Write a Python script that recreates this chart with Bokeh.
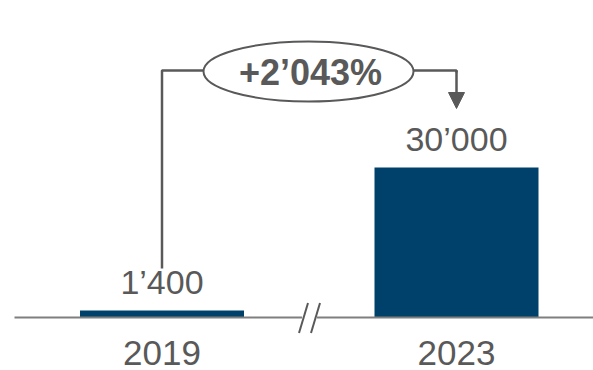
from bokeh.plotting import figure
from bokeh.models import Range1d, Arrow, NormalHead, ColumnDataSource
from bokeh.embed import file_html
from bokeh.resources import INLINE
from bokeh.core.properties import value

# ---- data ----
years = ["2019", "2023"]
counts = [1400, 30000]

def fmt(n):
    return f"{n:,}".replace(",", "\u2019")

growth = round((counts[1] - counts[0]) / counts[0] * 100)
growth_label = "+" + fmt(growth) + "%"

W, H = 593, 370
BLUE = "#00416B"
GRAY = "#595959"
AXIS = "#7F7F7F"
FONT = "Liberation Sans"

# pixel geometry helpers (image pixel -> data)
UNIT_X = 294.5          # px per category step
X0_PX = 161.5           # px of first category centre
BASE_PX = 317           # px of baseline from top
UNIT_Y = 200.0          # data units per px

def px2x(img_x):
    return (img_x - X0_PX) / UNIT_X

def px2y(img_y):
    return (BASE_PX - img_y) * UNIT_Y

xs = list(range(len(years)))

p = figure(width=W, height=H, output_backend="svg", toolbar_location=None,
           x_range=Range1d(px2x(0), px2x(W)),
           y_range=Range1d(px2y(H), px2y(0)),
           min_border=0, outline_line_color=None)
p.axis.visible = False
p.grid.visible = False
p.background_fill_color = "white"
p.border_fill_color = "white"

src = ColumnDataSource(dict(x=xs, top=counts, year=years,
                            label=[fmt(c) for c in counts]))

# bars
p.vbar(x="x", top="top", bottom=0, width=164 / UNIT_X, source=src,
       fill_color=BLUE, line_color=None)

# baseline with break
p.multi_line(xs=[[px2x(14), px2x(301.5)], [px2x(316.5), px2x(600)]],
             ys=[[0, 0], [0, 0]], line_color=AXIS, line_width=2)
p.multi_line(xs=[[px2x(298.5), px2x(307.5)], [px2x(310.5), px2x(319.5)]],
             ys=[[px2y(332.5), px2y(302.5)], [px2y(332.5), px2y(302.5)]],
             line_color=GRAY, line_width=2)

# value labels
p.text(x="x", y="top", text="label", source=src, y_offset=-29,
       text_align="center", text_baseline="middle",
       text_font=value(FONT), text_font_size="34px", text_color=GRAY)
# year labels
p.text(x="x", y=0, text="year", source=src, y_offset=35,
       text_align="center", text_baseline="middle",
       text_font=value(FONT), text_font_size="35px", text_color=GRAY)

# growth connector
top_y = px2y(70)
p.line(x=[xs[0], xs[0], xs[1], xs[1]],
       y=[px2y(268), top_y, top_y, top_y - 2 * UNIT_Y],
       line_color=GRAY, line_width=2.5)
p.add_layout(Arrow(end=NormalHead(size=16, fill_color=GRAY, line_color=GRAY),
                   x_start=xs[1], y_start=top_y, x_end=xs[1], y_end=px2y(108),
                   line_color=GRAY, line_width=2.5))
p.ellipse(x=[px2x(308)], y=[px2y(71)], width=210, height=60,
          width_units="screen", height_units="screen",
          fill_color="white", line_color=GRAY, line_width=2)
p.text(x=[px2x(310)], y=[px2y(71.5)], text=[growth_label], text_align="center",
       text_baseline="middle", text_font=value(FONT), text_font_size="36px",
       text_font_style="bold", text_color=GRAY)

open("out.html", "w").write(file_html(p, INLINE))
